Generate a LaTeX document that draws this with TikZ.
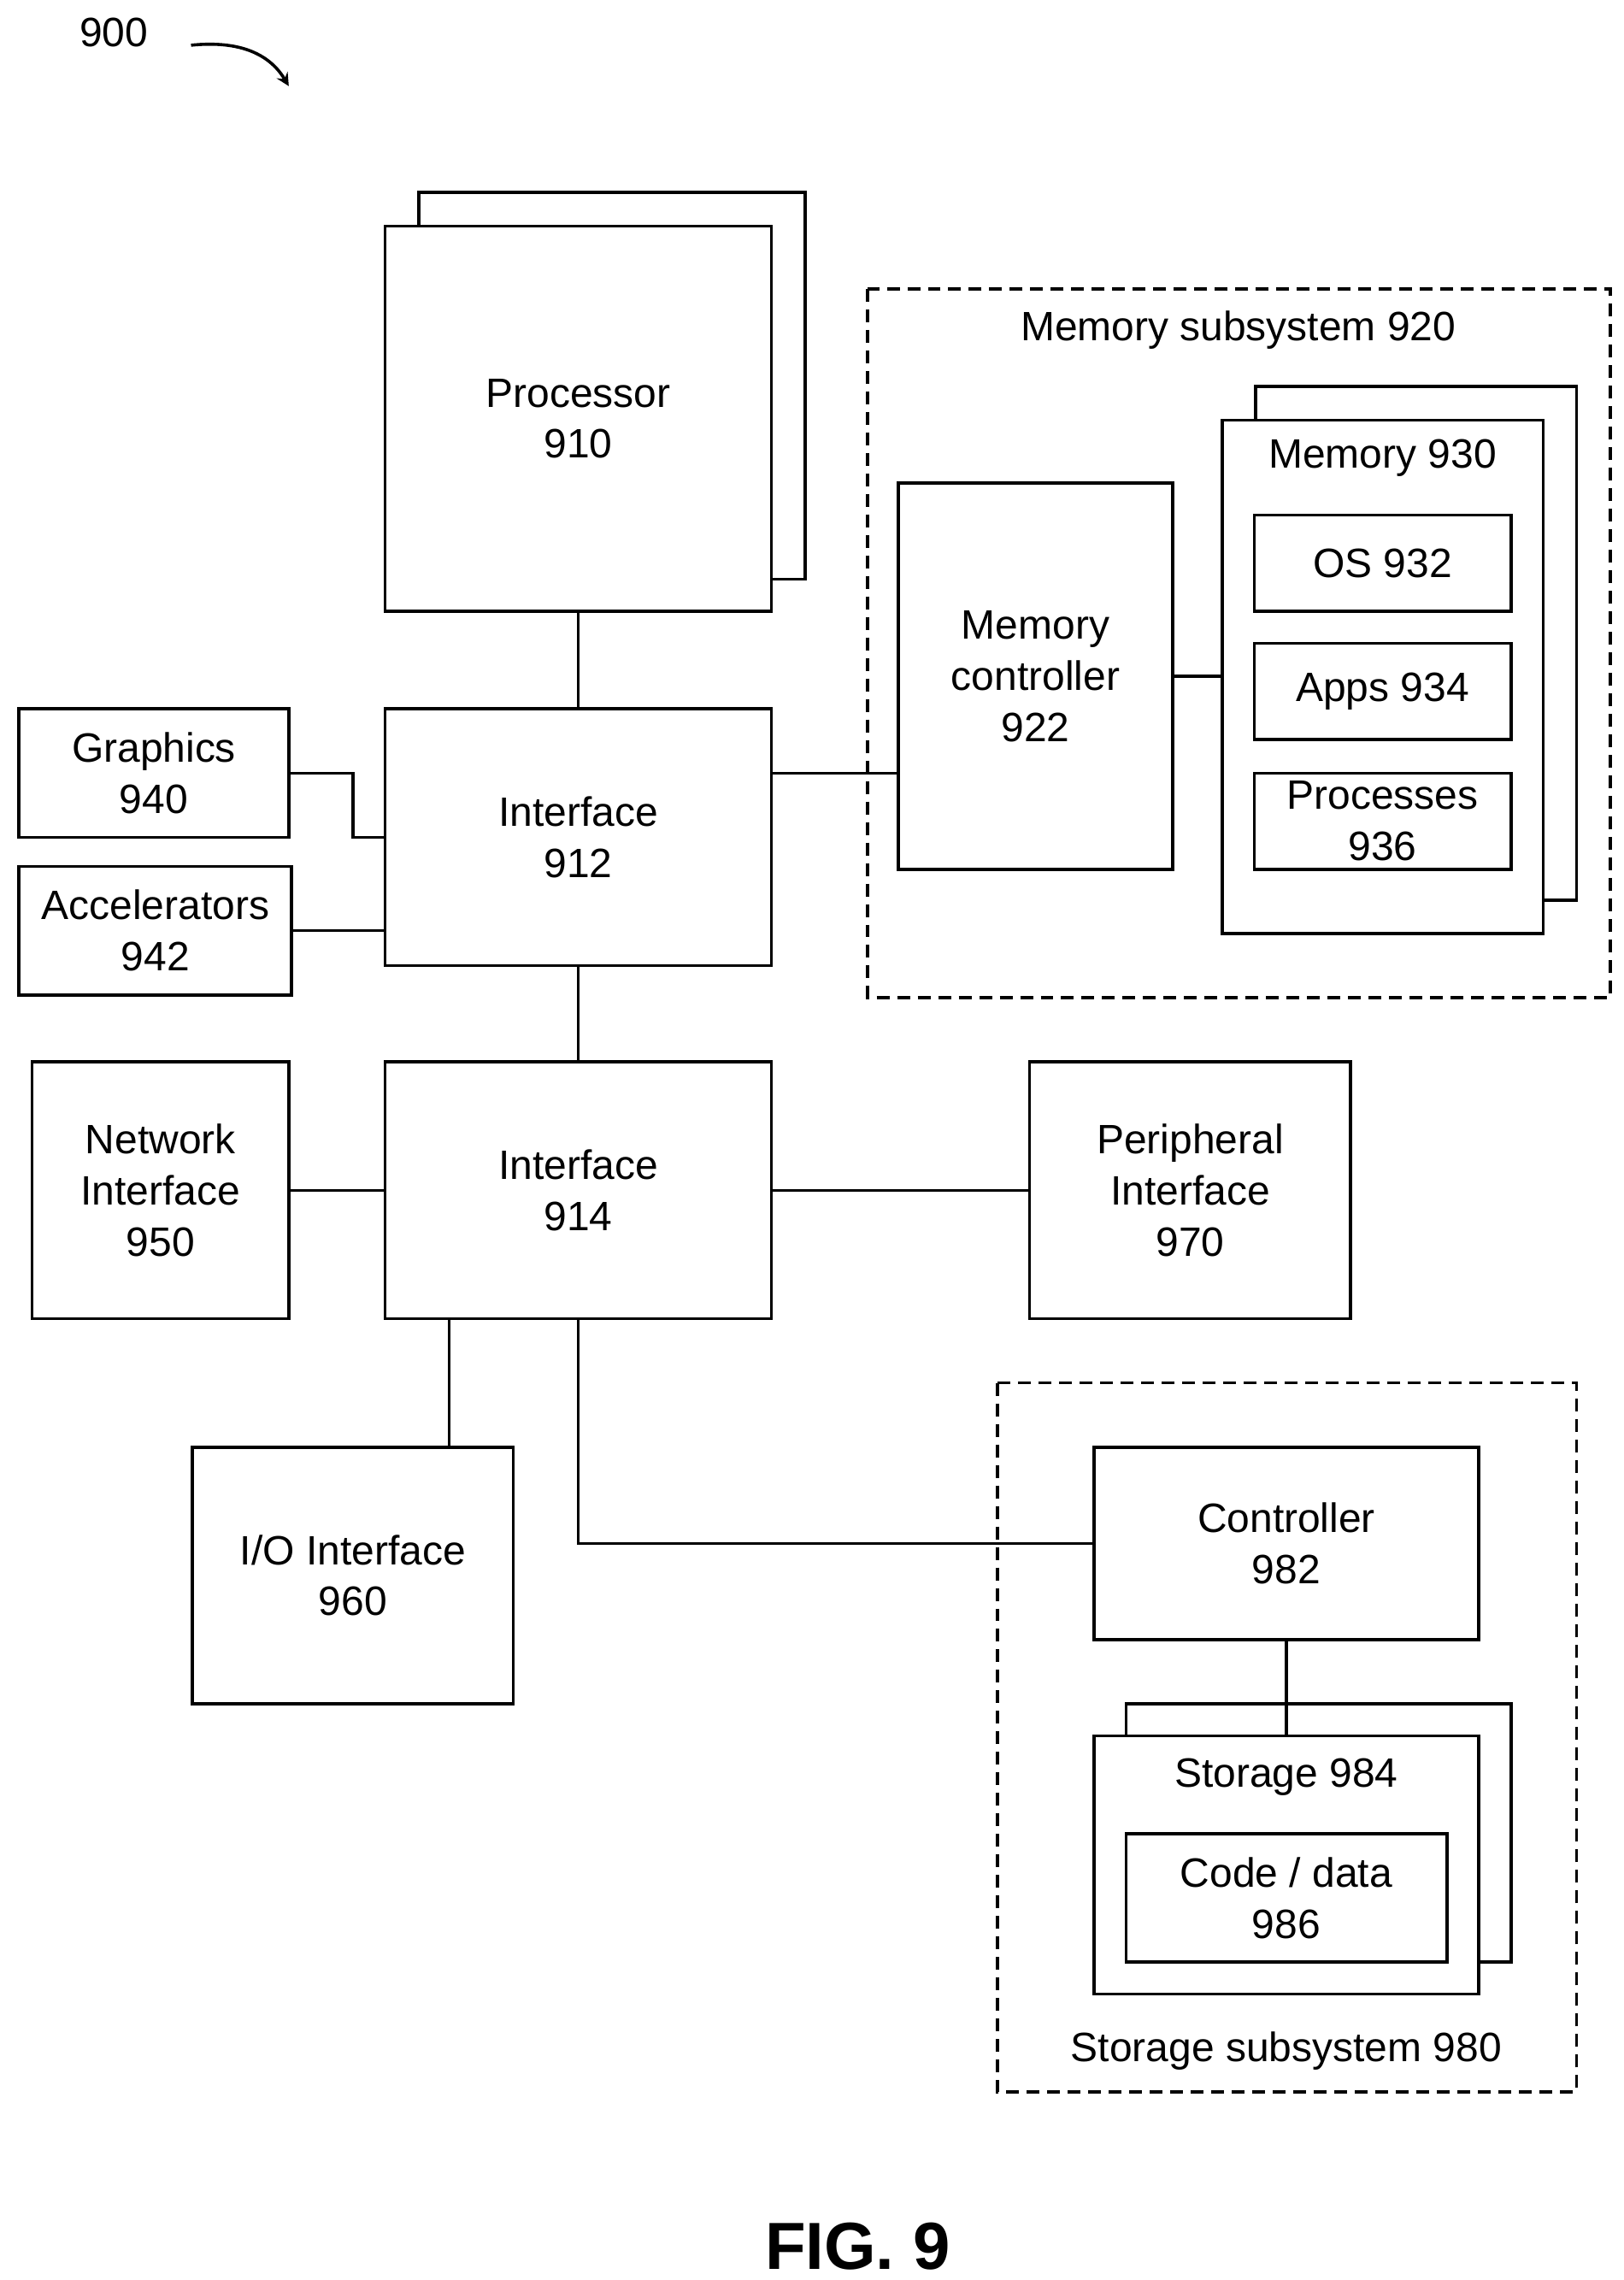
\documentclass[tikz,border=0pt]{standalone}
\usepackage{fontspec}
\setmainfont{Liberation Sans}
\begin{document}
\begin{tikzpicture}[x=1cm,y=-1cm,
  box/.style={draw,line width=1.2pt,fill=white,rectangle,inner sep=0pt,align=center,font=\fontsize{16}{20}\selectfont},
  txt/.style={inner sep=0pt,align=center,font=\fontsize{16}{20}\selectfont},
  ln/.style={line width=1.2pt},
  dsh/.style={line width=1.2pt,dash pattern=on 5pt off 3pt}]
\useasboundingbox (0,0) rectangle (22.26,31.26);
\node[txt] (l900) at (1.56,0.44) {900};
\coordinate (a1) at (2.62,0.62);
\coordinate (a2) at (3.96,1.18);
\draw[ln,-stealth] (a1) .. controls (3.3,0.55) and (3.7,0.75) .. (a2);
% processor
\node[box,minimum width=5.30cm,minimum height=5.30cm] (procB) at (8.39,5.29) {};
\node[box,minimum width=5.30cm,minimum height=5.28cm] (proc) at (7.93,5.74) {Processor\\910};
\node[box,minimum width=5.30cm,minimum height=3.52cm] (if912) at (7.93,11.48) {Interface\\912};
\node[box,minimum width=3.70cm,minimum height=1.76cm] (gfx) at (2.11,10.60) {Graphics\\940};
\node[box,minimum width=3.74cm,minimum height=1.76cm] (acc) at (2.13,12.76) {Accelerators\\942};
% memory subsystem
\draw[dsh] (11.90,3.96) rectangle (22.08,13.68);
\node[txt] (msl) at (16.98,4.52) {Memory subsystem 920};
\node[box,minimum width=3.76cm,minimum height=5.30cm] (mc) at (14.20,9.27) {Memory\\controller\\922};
\node[box,minimum width=4.40cm,minimum height=7.04cm] (memB) at (19.42,8.82) {};
\node[box,minimum width=4.40cm,minimum height=7.04cm] (mem) at (18.96,9.28) {};
\node[txt] (meml) at (18.96,6.28) {Memory 930};
\node[box,minimum width=3.52cm,minimum height=1.32cm] (os) at (18.96,7.72) {OS 932};
\node[box,minimum width=3.52cm,minimum height=1.32cm] (apps) at (18.96,9.48) {Apps 934};
\node[box,minimum width=3.52cm,minimum height=1.32cm] (prc) at (18.96,11.26) {Processes\\936};
% interface 914
\node[box,minimum width=5.30cm,minimum height=3.52cm] (if914) at (7.93,16.32) {Interface\\914};
\node[box,minimum width=3.52cm,minimum height=3.52cm] (net) at (2.20,16.32) {Network\\Interface\\950};
\node[box,minimum width=4.40cm,minimum height=3.52cm] (per) at (16.32,16.32) {Peripheral\\Interface\\970};
\node[box,minimum width=4.40cm,minimum height=3.52cm] (io) at (4.84,21.60) {I/O Interface\\960};
% storage subsystem
\draw[dsh] (13.68,18.96) rectangle (21.62,28.68);
\node[txt] (ssl) at (17.64,28.12) {Storage subsystem 980};
\node[box,minimum width=5.28cm,minimum height=2.64cm] (ctl) at (17.64,21.16) {Controller\\982};
\node[box,minimum width=5.28cm,minimum height=3.54cm] (stB) at (18.08,25.13) {};
\node[box,minimum width=5.28cm,minimum height=3.54cm] (st) at (17.64,25.57) {};
\node[txt] (stl) at (17.64,24.36) {Storage 984};
\node[box,minimum width=4.40cm,minimum height=1.76cm] (code) at (17.64,26.02) {Code / data\\986};
\node[font=\bfseries\fontsize{26}{30}\selectfont,inner sep=0pt] (fig) at (11.76,30.80) {FIG. 9};
% connectors
\coordinate (gx) at (4.84,0);
\coordinate (iox) at (6.16,0);
\draw[ln] (proc.south) -- (if912.north);
\draw[ln] (gfx.east) -| (gx |- if912.west) -- (if912.west);
\draw[ln] (acc.east) -- (acc.east -| if912.west);
\draw[ln] (if912.east |- gfx.east) -- (mc.west |- gfx.east);
\draw[ln] (mc.east) -- (mc.east -| mem.west);
\draw[ln] (if912.south) -- (if914.north);
\draw[ln] (net.east) -- (if914.west);
\draw[ln] (if914.east) -- (per.west);
\draw[ln] (if914.south -| iox) -- (io.north -| iox);
\draw[ln] (if914.south) |- (ctl.west);
\draw[ln] (ctl.south) -- (st.north);
\end{tikzpicture}
\end{document}
